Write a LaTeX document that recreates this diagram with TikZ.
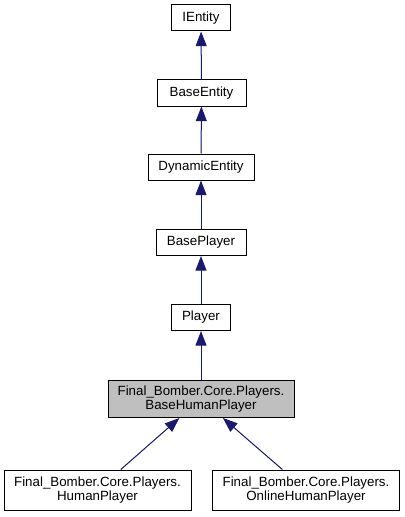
\documentclass[tikz,border=0pt]{standalone}
\usepackage{fontspec}
\setmainfont{Liberation Sans}
\usetikzlibrary{arrows.meta}
\definecolor{edgeblue}{RGB}{25,25,112}
\definecolor{selgray}{RGB}{191,191,191}

\begin{document}
\begin{tikzpicture}[x=0.75pt,y=-0.75pt,
  cls/.style={draw=black, line width=0.75pt, fill=white, inner sep=0pt,
    minimum height=19.5pt, align=center, font=\fontsize{10}{11}\selectfont},
  inh/.style={-{Triangle[length=11pt,width=8.25pt]}, draw=edgeblue, fill=edgeblue, line width=0.75pt}]
\useasboundingbox (0,0) rectangle (404,517);
% classes, top to bottom
\node[cls, minimum width=44.25pt] (ientity) at (201,18) {IEntity};
\node[cls, minimum width=66.75pt] (baseentity) at (201.5,93) {BaseEntity};
\node[cls, minimum width=79.5pt] (dynentity) at (201,167) {DynamicEntity};
\node[cls, minimum width=67.5pt] (baseplayer) at (201,242.5) {BasePlayer};
\node[cls, minimum width=44.25pt] (player) at (201,317.5) {Player};
\node[cls, fill=selgray, minimum width=139.5pt, minimum height=27.75pt] (bhplayer) at (201,399) {Final\_Bomber.Core.Players.\\BaseHumanPlayer};
\node[cls, minimum width=140.25pt, minimum height=30pt] (hplayer) at (97.5,490) {Final\_Bomber.Core.Players.\\HumanPlayer};
\node[cls, minimum width=140.25pt, minimum height=30pt] (ohplayer) at (306,490) {Final\_Bomber.Core.Players.\\OnlineHumanPlayer};
% inheritance
\draw[inh] (baseentity) -- (ientity);
\draw[inh] (dynentity) -- (baseentity);
\draw[inh] (baseplayer) -- (dynentity);
\draw[inh] (player) -- (baseplayer);
\draw[inh] (bhplayer) -- (player);
\draw[inh] (hplayer) -- (bhplayer);
\draw[inh] (ohplayer) -- (bhplayer);
\end{tikzpicture}
\end{document}
